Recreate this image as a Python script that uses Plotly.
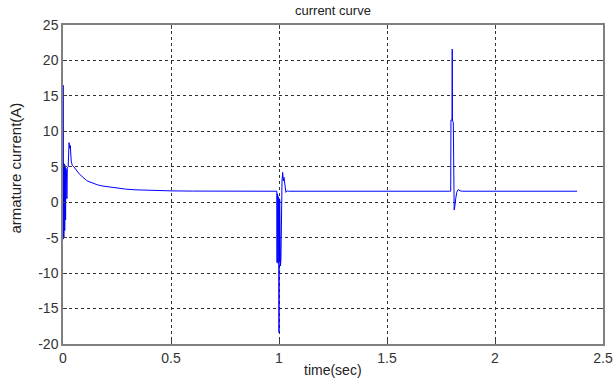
import plotly.graph_objects as go

# time (s) and armature current (A)
time_sec = [
    0.0, 0.0005, 0.002, 0.003, 0.004, 0.005, 0.006, 0.007, 0.008, 0.009, 0.010, 0.011,
    0.012, 0.013, 0.014, 0.016, 0.018, 0.020,
    0.024, 0.028, 0.031, 0.034, 0.038, 0.043, 0.050, 0.056, 0.065, 0.075, 0.086, 0.098,
    0.110, 0.125, 0.140, 0.160, 0.180, 0.200, 0.240, 0.290, 0.333, 0.400, 0.500, 0.600, 0.750,
    0.985, 0.990, 0.991, 0.992, 0.993, 0.994, 0.995, 0.996, 0.997, 0.998, 0.999, 1.000,
    1.001, 1.002, 1.003, 1.004, 1.005, 1.006, 1.007,
    1.009, 1.011, 1.014, 1.017, 1.020, 1.023, 1.027, 1.032, 1.038, 1.045,
    1.790, 1.795, 1.796, 1.801, 1.802, 1.803, 1.807, 1.809, 1.811, 1.814, 1.818, 1.823,
    1.830, 1.838, 1.850, 2.380,
]
current_a = [
    0.0, 16.5, -5.2, 5.5, -4.9, 5.4, -4.8, 5.3, -4.0, 5.2, -3.5, 5.0,
    -2.5, 4.8, -1.8, 4.5, 0.5, 4.8,
    5.0, 8.4, 7.6, 8.0, 5.8, 5.2, 5.0, 4.8, 4.4, 4.0, 3.7, 3.3,
    3.05, 2.85, 2.65, 2.45, 2.3, 2.2, 2.0, 1.85, 1.75, 1.65, 1.6, 1.57, 1.55,
    1.55, 1.55, -8.5, 1.2, -8.2, 1.0, -8.6, 0.8, -8.0, 0.6, -7.0, -18.4,
    0.5, -8.3, 0.4, -8.6, 0.0, -8.8, -9.0,
    -8.0, 1.5, 3.0, 4.2, 3.0, 3.5, 2.0, 1.4, 1.6, 1.55,
    1.55, 1.55, 11.6, 11.6, 21.6, 11.6, 11.2, 5.0, -1.1, -0.6, 0.5, 1.4,
    1.8, 1.6, 1.55, 1.55,
]

x_ticks = [0, 0.5, 1, 1.5, 2, 2.5]
x_tick_labels = ["0", "0.5", "1", "1.5", "2", "2.5"]
y_ticks = [-20, -15, -10, -5, 0, 5, 10, 15, 20, 25]
y_tick_labels = ["-20", "-15", "-10", "-5", "0", "5", "10", "15", "20", "25"]

chart_title = "current curve"
x_title = "time(sec)"
y_title = "armature current(A)"

FONT = "Liberation Sans, Arial, sans-serif"

fig = go.Figure()
fig.add_trace(go.Scatter(
    x=time_sec, y=current_a, mode="lines",
    line=dict(color="#0000FF", width=1),
    showlegend=False, hoverinfo="skip",
))

axis_common = dict(
    showline=True, linecolor="#808080", linewidth=1.5, mirror="ticks",
    ticks="inside", ticklen=4, tickcolor="#404040", tickwidth=1,
    showgrid=True, gridcolor="#303030", gridwidth=1, griddash="3px,3px",
    zeroline=False, automargin=False,
    tickfont=dict(family=FONT, size=14, color="#333333"),
)

fig.update_layout(
    width=615, height=381,
    margin=dict(l=63, r=12, t=25, b=37),
    paper_bgcolor="white", plot_bgcolor="white",
    xaxis=dict(range=[0, 2.5], tickvals=x_ticks, ticktext=x_tick_labels, **axis_common),
    yaxis=dict(range=[-20, 25], tickvals=y_ticks, ticktext=y_tick_labels, **axis_common),
    annotations=[
        dict(text=chart_title, xref="paper", yref="paper", x=0.5, y=1.047,
             xanchor="center", yanchor="middle", showarrow=False,
             font=dict(family=FONT, size=13, color="#222222")),
        dict(text=x_title, xref="paper", yref="paper", x=0.5, y=-0.0815,
             xanchor="center", yanchor="middle", showarrow=False,
             font=dict(family=FONT, size=14, color="#222222")),
        dict(text=y_title, xref="paper", yref="paper", x=-0.087, y=0.55,
             xanchor="center", yanchor="middle", showarrow=False, textangle=-90,
             font=dict(family=FONT, size=15, color="#222222")),
    ],
)

fig.write_html("out.html")
